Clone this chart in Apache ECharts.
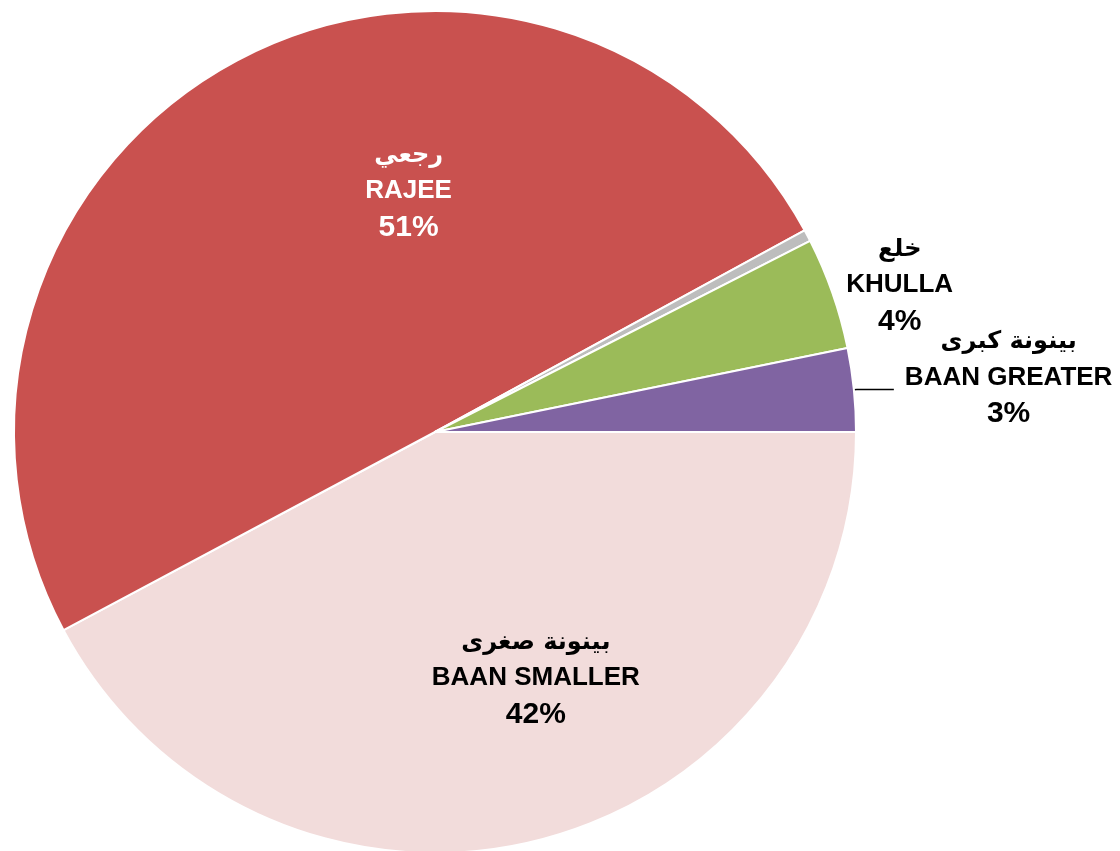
<!DOCTYPE html>
<html>
<head>
<meta charset="utf-8">
<script src="https://cdn.jsdelivr.net/npm/echarts@6/dist/echarts.min.js"></script>
<style>
	html,body{margin:0;padding:0;background:#fff;}
	#pie-chart{width:1120px;height:851px;}
</style>
</head>
<body>
<div id="pie-chart"></div>
<script>
//分类（英文 / 阿拉伯文）
var enNames = ['BAAN SMALLER', 'RAJEE', '', 'KHULLA', 'BAAN GREATER'];
var arNames = ['بينونة صغرى', 'رجعي', '', 'خلع', 'بينونة كبرى'];

//扇区份额（按图中角度读取）
var shares = [42.2, 49.85, 0.45, 4.3, 3.2];

//标签上的百分比
var pctLabels = ['42%', '51%', '', '4%', '3%'];

//颜色
var sliceColors = ['#F2DCDB', '#C9514F', '#BDBDBD', '#9BBB59', '#8064A2'];

$init();

/**
 * 初始化饼图
 */
function $init(){
	var chart = echarts.init(document.getElementById('pie-chart'));

	//每个扇区的标签设置
	var labelSet = [
		{position:'inside', color:'#000', dx:49, dy:40, line:false},
		{position:'inside', color:'#fff', dx:75, dy:-52, line:false},
		{position:'inside', color:'#000', dx:0, dy:0, line:false, hide:true},
		{position:'outside', color:'#000', dx:-31, dy:-6, line:false},
		{position:'outside', color:'#000', dx:6, dy:-11, line:true}
	];

	var data = [];
	for (var i = 0; i < shares.length; i++) {
		var ls = labelSet[i];
		data.push({
			name: enNames[i],
			value: shares[i],
			itemStyle: {color: sliceColors[i]},
			label: {
				show: !ls.hide,
				position: ls.position,
				color: ls.color
			},
			labelLine: {
				show: ls.line,
				length: 3,
				length2: 37,
				lineStyle: {color: '#000', width: 1.5}
			}
		});
	}

	var option = {
		animation: false,
		backgroundColor: '#fff',
		series: [{
			type: 'pie',
			center: [435, 432],
			radius: 421,
			startAngle: 0,
			clockwise: true,
			avoidLabelOverlap: false,
			itemStyle: {
				borderColor: '#fff',
				borderWidth: 2
			},
			label: {
				fontFamily: 'Liberation Sans, Arial, sans-serif',
				fontWeight: 'bold',
				alignTo: 'none',
				formatter: function(p){
					var i = p.dataIndex;
					return '{ar|' + arNames[i] + '}\n{en|' + enNames[i] + '}\n{pc|' + pctLabels[i] + '}';
				},
				rich: {
					ar: {fontFamily: 'DejaVu Sans, sans-serif', fontWeight: 'bold', fontSize: 24, lineHeight: 36, align: 'center'},
					en: {fontFamily: 'Liberation Sans, Arial, sans-serif', fontWeight: 'bold', fontSize: 26, lineHeight: 35, align: 'center'},
					pc: {fontFamily: 'Liberation Sans, Arial, sans-serif', fontWeight: 'bold', fontSize: 30, lineHeight: 38, align: 'center'}
				}
			},
			labelLayout: function(params){
				var ls = labelSet[params.dataIndex];
				return {dx: ls.dx, dy: ls.dy};
			},
			data: data
		}]
	};
	chart.setOption(option);
}
</script>
</body>
</html>
